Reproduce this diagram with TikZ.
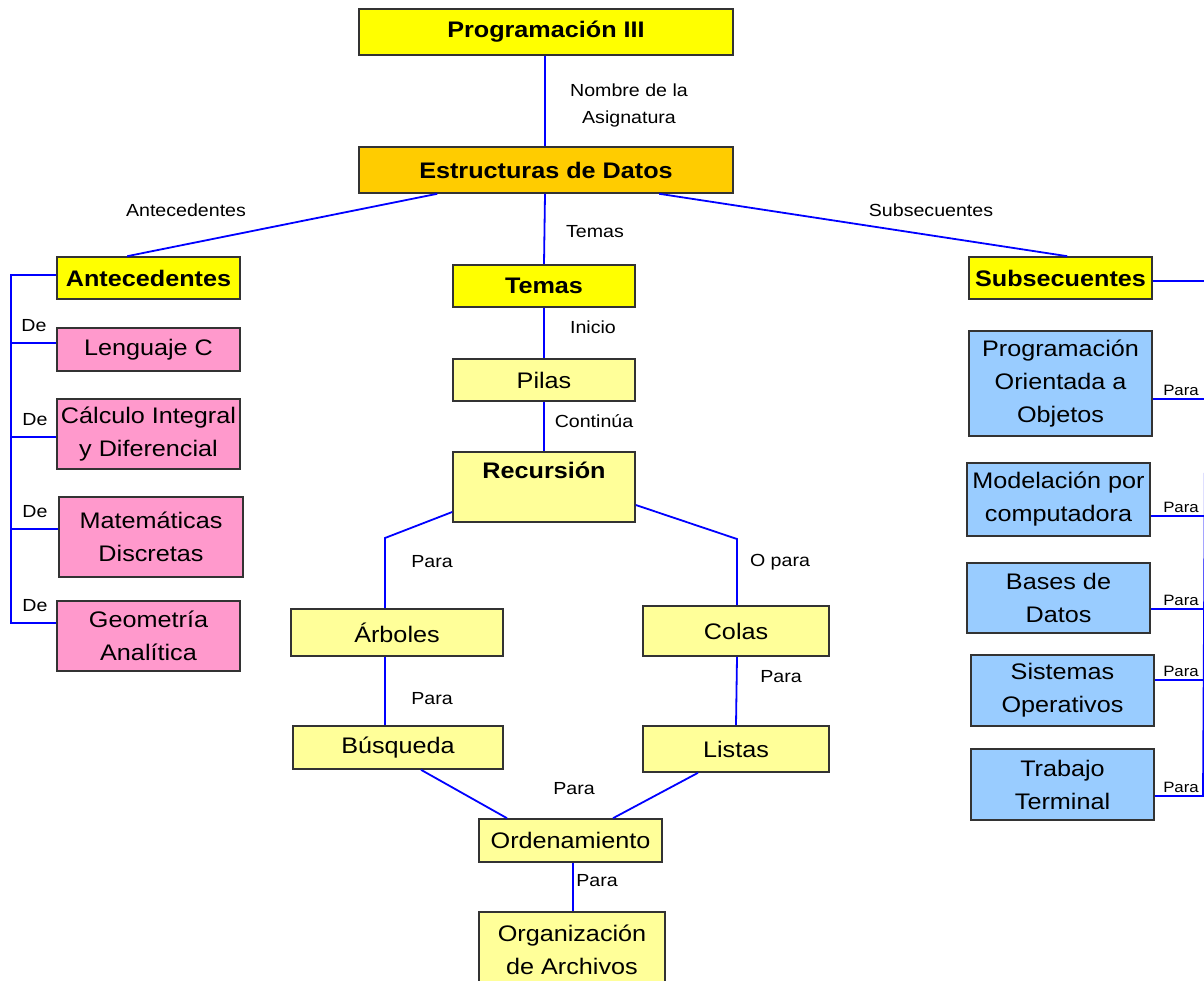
\documentclass[tikz,border=0pt]{standalone}
\usepackage{fontspec}
\setmainfont{Liberation Sans}[FakeStretch=1.12]
\usetikzlibrary{calc}

\definecolor{amarillo}{HTML}{FFFF00}
\definecolor{naranja}{HTML}{FFCC00}
\definecolor{crema}{HTML}{FFFF99}
\definecolor{rosa}{HTML}{FF99CC}
\definecolor{celeste}{HTML}{99CCFF}
\definecolor{enlace}{HTML}{0000FF}

\begin{document}
\begin{tikzpicture}[x=1pt,y=-1pt,
    caja/.style={draw=black!80, line width=1.6pt, inner sep=0pt, align=center,
      font=\fontsize{22.5}{33}\selectfont},
    titulo/.style={caja, font=\fontsize{22.5}{33}\selectfont\bfseries},
    link/.style={enlace, line width=1.8pt},
    etiq/.style={font=\fontsize{17.5}{27}\selectfont, align=center, inner sep=0pt},
    chica/.style={font=\fontsize{15}{18}\selectfont, inner sep=0pt, anchor=south}]
  \useasboundingbox (0,0) rectangle (1204,981);
  \clip (0,0) rectangle (1204,981);

  % cabecera
  \node[titulo, fill=amarillo, minimum width=374pt, minimum height=46pt] (prog) at (546,32) {Programación III};
  \node[titulo, fill=naranja, minimum width=374pt, minimum height=46pt] (estr) at (546,170) {Estructuras de Datos};
  \node[titulo, fill=amarillo, minimum width=183pt, minimum height=42pt] (ante) at (148.5,278) {Antecedentes};
  \node[titulo, fill=amarillo, minimum width=182pt, minimum height=42pt] (temas) at (544,286) {Temas};
  \node[titulo, fill=amarillo, minimum width=183pt, minimum height=42pt] (subs) at (1060.5,278) {Subsecuentes};

  % antecedentes
  \node[caja, fill=rosa, minimum width=183pt, minimum height=43pt] (leng) at (148.5,349.5) {Lenguaje C};
  \node[caja, fill=rosa, minimum width=183pt, minimum height=70pt] (calc) at (148.5,434) {Cálculo Integral\\y Diferencial};
  \node[caja, fill=rosa, minimum width=184pt, minimum height=80pt] (mate) at (151,537) {Matemáticas\\Discretas};
  \node[caja, fill=rosa, minimum width=183pt, minimum height=70pt] (geom) at (148.5,636) {Geometría\\Analítica};

  % temas
  \node[caja, fill=crema, minimum width=182pt, minimum height=42pt] (pilas) at (544,380) {Pilas};
  \node[titulo, fill=crema, minimum width=182pt, minimum height=70pt] (recu) at (544,487) {Recursión\\\mbox{}};
  \node[caja, fill=crema, minimum width=212pt, minimum height=47pt] (arbo) at (397,632.5) {Árboles};
  \node[caja, fill=crema, minimum width=210pt, minimum height=43pt] (busq) at (398,747.5) {Búsqueda};
  \node[caja, fill=crema, minimum width=186pt, minimum height=50pt] (colas) at (736,631) {Colas};
  \node[caja, fill=crema, minimum width=186pt, minimum height=46pt] (listas) at (736,749) {Listas};
  \node[caja, fill=crema, minimum width=183pt, minimum height=43pt] (orde) at (570.5,840.5) {Ordenamiento};
  \node[caja, fill=crema, minimum width=186pt, minimum height=75pt] (orga) at (572,949.5) {Organización\\de Archivos};

  % subsecuentes
  \node[caja, fill=celeste, minimum width=183pt, minimum height=105pt] (poo) at (1060.5,383.5) {Programación\\Orientada a\\Objetos};
  \node[caja, fill=celeste, minimum width=183pt, minimum height=73pt] (mode) at (1058.5,499.5) {Modelación por\\computadora};
  \node[caja, fill=celeste, minimum width=183pt, minimum height=70pt] (bases) at (1058.5,598) {Bases de\\Datos};
  \node[caja, fill=celeste, minimum width=183pt, minimum height=71pt] (siste) at (1062.5,690.5) {Sistemas\\Operativos};
  \node[caja, fill=celeste, minimum width=183pt, minimum height=71pt] (traba) at (1062.5,784.5) {Trabajo\\Terminal};

  \coordinate (lbus) at (11,0);
  \coordinate (rbus) at (1204,0);
  \coordinate (rtop) at (1206,281);
  \coordinate (rbot) at (1203,796);
  \coordinate (codoL) at (385,538);
  \coordinate (codoR) at (737,539);

  % conectores
  \draw[link] ([xshift=-1pt]prog.south) -- ([xshift=-1pt]estr.north);
  \draw[link] ([xshift=-1pt]estr.south) -- (temas.north);
  \draw[link] ([xshift=79pt]estr.south west) -- ([xshift=71pt]ante.north west);
  \draw[link] ([xshift=301pt]estr.south west) -- ([xshift=99pt]subs.north west);
  \draw[link] (temas.south) -- (pilas.north);
  \draw[link] (pilas.south) -- (recu.north);
  \draw[link] ([yshift=-25pt]recu.west) -- (codoL) -- ([xshift=-12pt]arbo.north);
  \draw[link] ([yshift=-18pt]recu.east) -- (codoR) -- ([xshift=1pt]colas.north);
  \draw[link] ([xshift=-12pt]arbo.south) -- ([xshift=-13pt]busq.north);
  \draw[link] ([xshift=1pt]colas.south) -- (listas.north);
  \draw[link] ([xshift=23pt]busq.south) -- ([xshift=-63.5pt]orde.north);
  \draw[link] ([xshift=-38pt]listas.south) -- ([xshift=42.5pt]orde.north);
  \draw[link] ([xshift=2.5pt]orde.south) -- ([xshift=1pt]orga.north);

  \draw[link] ([yshift=3pt]ante.west) -- ([yshift=3pt]ante.west -| lbus)
    -- ([yshift=13pt]geom.west -| lbus) -- ([yshift=13pt]geom.west);
  \foreach \n/\s in {leng/6.5, calc/-3, mate/8}
    \draw[link] ([yshift=\s pt]\n.west) -- ([yshift=\s pt]\n.west -| lbus);

  \draw[link] (rtop) -- (rbot) -- ([yshift=-11.5pt]traba.east);
  \foreach \n/\s in {subs/-3, poo/-15.5, mode/-16.5, bases/-11, siste/10.5}
    \draw[link] ([yshift=\s pt]\n.east) -- ([yshift=\s pt]\n.east -| rbus);

  % etiquetas
  \node[etiq] (lnom) at (629,105) {Nombre de la\\Asignatura};
  \node[etiq] (lante) at (186,210) {Antecedentes};
  \node[etiq] (lsubs) at (931,210) {Subsecuentes};
  \node[etiq] (ltemas) at (595,232) {Temas};
  \node[etiq] (lini) at (593,327) {Inicio};
  \node[etiq] (lcont) at (594,421) {Continúa};
  \node[etiq] (lpar1) at (432,562) {Para};
  \node[etiq] (lopar) at (780,562) {O para};
  \node[etiq] (lpar2) at (432,699) {Para};
  \node[etiq] (lpar3) at (781,677) {Para};
  \node[etiq] (lpar4) at (574,789) {Para};
  \node[etiq] (lpar5) at (597,881) {Para};

  \node[etiq] (de1) at (34,326) {De};
  \node[etiq] (de2) at (35,420) {De};
  \node[etiq] (de3) at (35,512) {De};
  \node[etiq] (de4) at (35,606) {De};

  \node[chica] (pa1) at (1181,396) {Para};
  \node[chica] (pa2) at (1181,513) {Para};
  \node[chica] (pa3) at (1181,606) {Para};
  \node[chica] (pa4) at (1181,677) {Para};
  \node[chica] (pa5) at (1181,793) {Para};
\end{tikzpicture}
\end{document}
